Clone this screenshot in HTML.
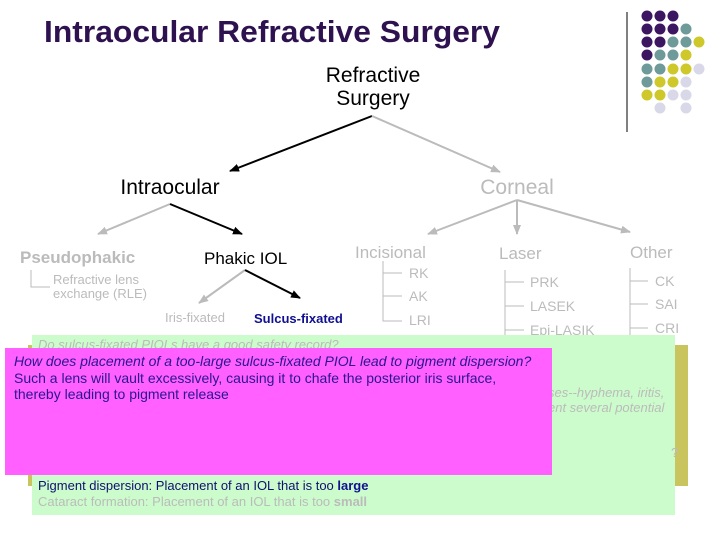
<!DOCTYPE html>
<html><head><meta charset="utf-8"><style>
html,body{margin:0;padding:0;background:#fff;}
svg{display:block;font-family:"Liberation Sans",sans-serif;}
</style></head><body>
<svg width="720" height="540" viewBox="0 0 720 540" xmlns="http://www.w3.org/2000/svg">
<defs>
<marker id="ab" markerWidth="10" markerHeight="8" refX="9" refY="4" orient="auto" markerUnits="userSpaceOnUse"><path d="M0,0 L10,4 L0,8 z" fill="#000"/></marker>
<marker id="ag" markerWidth="10" markerHeight="8" refX="9" refY="4" orient="auto" markerUnits="userSpaceOnUse"><path d="M0,0 L10,4 L0,8 z" fill="#bbb"/></marker>
</defs>
<text x="44" y="42" font-size="31" font-weight="bold" fill="#2e1250" textLength="456" lengthAdjust="spacingAndGlyphs">Intraocular Refractive Surgery</text>
<line x1="627" y1="12" x2="627" y2="132" stroke="#000" stroke-width="1"/>
<g>
<circle cx="647" cy="16" r="5.5" fill="#3c1660"/><circle cx="660" cy="16" r="5.5" fill="#3c1660"/><circle cx="673" cy="16" r="5.5" fill="#3c1660"/>
<circle cx="647" cy="29" r="5.5" fill="#3c1660"/><circle cx="660" cy="29" r="5.5" fill="#3c1660"/><circle cx="673" cy="29" r="5.5" fill="#3c1660"/><circle cx="686" cy="29" r="5.5" fill="#6f9a9a"/>
<circle cx="647" cy="42" r="5.5" fill="#3c1660"/><circle cx="660" cy="42" r="5.5" fill="#3c1660"/><circle cx="673" cy="42" r="5.5" fill="#6f9a9a"/><circle cx="686" cy="42" r="5.5" fill="#6f9a9a"/><circle cx="699" cy="42" r="5.5" fill="#cfc82a"/>
<circle cx="647" cy="55" r="5.5" fill="#3c1660"/><circle cx="660" cy="55" r="5.5" fill="#6f9a9a"/><circle cx="673" cy="55" r="5.5" fill="#6f9a9a"/><circle cx="686" cy="55" r="5.5" fill="#cfc82a"/>
<circle cx="647" cy="69" r="5.5" fill="#6f9a9a"/><circle cx="660" cy="69" r="5.5" fill="#6f9a9a"/><circle cx="673" cy="69" r="5.5" fill="#cfc82a"/><circle cx="686" cy="69" r="5.5" fill="#cfc82a"/><circle cx="699" cy="69" r="5.5" fill="#d8d8e8"/>
<circle cx="647" cy="82" r="5.5" fill="#6f9a9a"/><circle cx="660" cy="82" r="5.5" fill="#cfc82a"/><circle cx="673" cy="82" r="5.5" fill="#cfc82a"/><circle cx="686" cy="82" r="5.5" fill="#d8d8e8"/>
<circle cx="647" cy="95" r="5.5" fill="#cfc82a"/><circle cx="660" cy="95" r="5.5" fill="#cfc82a"/><circle cx="673" cy="95" r="5.5" fill="#d8d8e8"/><circle cx="686" cy="95" r="5.5" fill="#d8d8e8"/>
<circle cx="660" cy="108" r="5.5" fill="#d8d8e8"/><circle cx="686" cy="108" r="5.5" fill="#d8d8e8"/>
</g>
<text x="373" y="82" font-size="21" text-anchor="middle">Refractive</text>
<text x="373" y="105" font-size="21" text-anchor="middle">Surgery</text>
<line x1="372" y1="116" x2="230" y2="171" stroke="#000" stroke-width="2" marker-end="url(#ab)"/>
<line x1="372" y1="116" x2="500" y2="172" stroke="#bbb" stroke-width="2" marker-end="url(#ag)"/>
<text x="170" y="194" font-size="21" text-anchor="middle">Intraocular</text>
<text x="517" y="194" font-size="21" text-anchor="middle" fill="#bbb">Corneal</text>
<line x1="170" y1="204" x2="98" y2="234" stroke="#bbb" stroke-width="2" marker-end="url(#ag)"/>
<line x1="170" y1="204" x2="242" y2="234" stroke="#000" stroke-width="2" marker-end="url(#ab)"/>
<text x="20" y="263" font-size="17" font-weight="bold" fill="#bbb">Pseudophakic</text>
<path d="M31,270 V287 H50" stroke="#bbb" fill="none"/>
<text x="53" y="284" font-size="13" fill="#bbb">Refractive lens</text>
<text x="53" y="298" font-size="13" fill="#bbb">exchange (RLE)</text>
<text x="204" y="264" font-size="17">Phakic IOL</text>
<line x1="245" y1="270" x2="199" y2="303" stroke="#bbb" stroke-width="2" marker-end="url(#ag)"/>
<line x1="245" y1="270" x2="300" y2="298" stroke="#000" stroke-width="2" marker-end="url(#ab)"/>
<text x="165" y="322" font-size="13" fill="#bbb">Iris-fixated</text>
<text x="254" y="323" font-size="13" font-weight="bold" fill="#101090">Sulcus-fixated</text>
<line x1="517" y1="200" x2="428" y2="234" stroke="#bbb" stroke-width="2" marker-end="url(#ag)"/>
<line x1="517" y1="200" x2="517" y2="234" stroke="#bbb" stroke-width="2" marker-end="url(#ag)"/>
<line x1="517" y1="200" x2="630" y2="232" stroke="#bbb" stroke-width="2" marker-end="url(#ag)"/>
<text x="355" y="258" font-size="17" fill="#bbb">Incisional</text>
<path d="M383,261 V321 H402 M383,296 H402 M383,273 H402" stroke="#bbb" fill="none"/>
<text x="409" y="278" font-size="14" fill="#bbb">RK</text>
<text x="409" y="301" font-size="14" fill="#bbb">AK</text>
<text x="409" y="325" font-size="14" fill="#bbb">LRI</text>
<text x="499" y="259" font-size="17" fill="#bbb">Laser</text>
<path d="M505,270 V340 M505,282 H524 M505,306 H524 M505,330 H524" stroke="#bbb" fill="none"/>
<text x="530" y="287" font-size="14" fill="#bbb">PRK</text>
<text x="530" y="311" font-size="14" fill="#bbb">LASEK</text>
<text x="530" y="335" font-size="14" fill="#bbb">Epi-LASIK</text>
<text x="630" y="258" font-size="17" fill="#bbb">Other</text>
<path d="M630,268 V340 M630,281 H648 M630,304 H648 M630,328 H648" stroke="#bbb" fill="none"/>
<text x="655" y="286" font-size="14" fill="#bbb">CK</text>
<text x="655" y="309" font-size="14" fill="#bbb">SAI</text>
<text x="655" y="333" font-size="14" fill="#bbb">CRI</text>
<rect x="28" y="345" width="660" height="141" fill="#cac45e"/>
<rect x="32" y="335" width="643" height="180" fill="#ccfccc"/>
<text x="38" y="349" font-size="13" font-style="italic" fill="#bbb">Do sulcus-fixated PIOLs have a good safety record?</text>
<text x="548" y="397" font-size="13" font-style="italic" fill="#bbb">ses--hyphema, iritis,</text>
<text x="548" y="412" font-size="13" font-style="italic" fill="#bbb">ent several potential</text>
<text x="671" y="457" font-size="13" fill="#bbb">?</text>
<text x="38" y="490" font-size="13" fill="#101070">Pigment dispersion: Placement of an IOL that is too <tspan font-weight="bold" fill="#101090">large</tspan></text>
<text x="38" y="506" font-size="13" fill="#bbb">Cataract formation: Placement of an IOL that is too <tspan font-weight="bold">small</tspan></text>
<rect x="5" y="348" width="547" height="127" fill="#ff60ff"/>
<text x="14" y="366" font-size="14" font-style="italic" fill="#2a1590">How does placement of a too-large sulcus-fixated PIOL lead to pigment dispersion?</text>
<text x="14" y="383" font-size="14" fill="#2a1590">Such a lens will vault excessively, causing it to chafe the posterior iris surface,</text>
<text x="14" y="399" font-size="14" fill="#2a1590">thereby leading to pigment release</text>
</svg>
</body></html>
